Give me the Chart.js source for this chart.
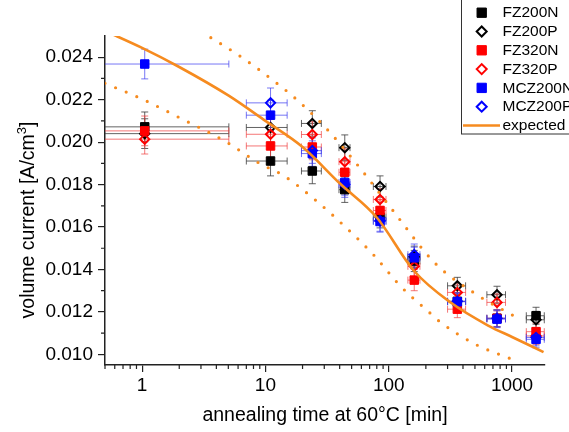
<!DOCTYPE html>
<html>
<head>
<meta charset="utf-8">
<script src="https://cdn.jsdelivr.net/npm/chart.js@4.4.1/dist/chart.umd.min.js"></script>
<style>
    html, body { margin: 0; padding: 0; background: #fff; overflow: hidden; }
    #chart { display: block; }
</style>
</head>
<body>
<canvas id="chart" width="569" height="432"></canvas>
<script>
// annealing steps (minutes) and their errors, shared by all samples
const times = [1.05, 11, 24, 44, 85, 161, 360, 755, 1565];
const timeErr = [4, 4, 4.4, 4.5, 10, 18, 60, 130, 260];
const currentErr = [0.0007, 0.0007, 0.0006, 0.0006, 0.0005, 0.0005, 0.0004, 0.0004, 0.0004];

// volume current [A/cm3] per sample
const fz200n = [0.02072, 0.01911, 0.01864, 0.01776, 0.01646, 0.01440, 0.01250, 0.01170, 0.01182];
const fz200p = [0.02040, 0.02069, 0.02088, 0.01974, 0.01791, 0.01460, 0.01323, 0.01281, 0.01163];
const fz320n = [0.02053, 0.01982, 0.01977, 0.01858, 0.01678, 0.01350, 0.01213, 0.01170, 0.01107];
const fz320p = [0.02014, 0.02037, 0.02036, 0.01908, 0.01730, 0.01415, 0.01292, 0.01245, 0.01087];
const mcz200n = [0.02368, 0.02127, 0.01946, 0.01810, 0.01626, 0.01455, 0.01248, 0.01166, 0.01071];
const mcz200p = [null, 0.02185, 0.01960, 0.01800, 0.01630, 0.01470, 0.01250, 0.01170, 0.01080];

// expected annealing curve and its band
const expectedTimes = [0.5, 1, 2, 5, 10, 20, 40, 80, 160, 320, 640, 1000, 1800];
const expectedValues = [0.02524, 0.02444, 0.02354, 0.02220, 0.02100, 0.01977, 0.01806, 0.01645, 0.01394, 0.01243, 0.01136, 0.01082, 0.01011];
const upperTimes = [3, 3.5, 6.6, 11.9, 17.5, 30.3, 58.5, 108, 238, 535, 1030];
const upperValues = [0.02520, 0.02497, 0.02395, 0.02285, 0.02206, 0.02072, 0.01878, 0.01678, 0.01429, 0.01276, 0.01182];
const lowerTimes = [0.5, 1, 1.95, 4.8, 9, 13.9, 25.2, 44.2, 75, 124, 214, 261, 503, 1000];
const lowerValues = [0.02277, 0.02203, 0.02119, 0.02001, 0.01899, 0.01844, 0.01729, 0.01602, 0.01470, 0.01323, 0.01197, 0.01153, 0.01048, 0.00977];

// axes
const xTicks = [1, 10, 100, 1000];
const xMinorTicks = [0.5, 0.6, 0.7, 0.8, 0.9, 2, 3, 4, 5, 6, 7, 8, 9, 20, 30, 40, 50, 60, 70, 80, 90,
    200, 300, 400, 500, 600, 700, 800, 900];
const yTicks = [0.010, 0.012, 0.014, 0.016, 0.018, 0.020, 0.022, 0.024];
const yMinorTicks = [0.011, 0.013, 0.015, 0.017, 0.019, 0.021, 0.023];

const ORANGE = '#F68B1F';
const FONT = 'Arial, "Liberation Sans", sans-serif';

const toPoints = (values) => times
    .map((t, i) => ({ x: t, y: values[i], xe: timeErr[i], ye: currentErr[i] }))
    .filter((p) => p.y !== null);

const toLine = (xs, ys) => xs.map((t, i) => ({ x: t, y: ys[i] }));

const sample = (label, values, color, errColor, filled, order) => ({
    label,
    data: toPoints(values),
    pointStyle: filled ? 'rect' : 'rectRot',
    pointRadius: filled ? 6 : 4.6,
    pointHoverRadius: filled ? 6 : 4.6,
    borderColor: color,
    backgroundColor: filled ? color : 'rgba(255,255,255,0)',
    pointBorderWidth: filled ? 1 : 2,
    borderWidth: filled ? 1 : 2,
    showLine: false,
    errorColor: errColor,
    order,
});

const errorBars = {
    id: 'errorBars',
    beforeDatasetsDraw(chart) {
        const { ctx, chartArea, scales: { x, y } } = chart;
        ctx.save();
        ctx.beginPath();
        ctx.rect(chartArea.left, chartArea.top, chartArea.right - chartArea.left, chartArea.bottom - chartArea.top);
        ctx.clip();
        ctx.lineWidth = 1;
        chart.data.datasets.forEach((ds) => {
            if (!ds.errorColor) return;
            ctx.strokeStyle = ds.errorColor;
            ds.data.forEach((p) => {
                const px = x.getPixelForValue(p.x);
                const py = y.getPixelForValue(p.y);
                const lowOk = p.x - p.xe > 0;
                const x0 = lowOk ? x.getPixelForValue(p.x - p.xe) : chartArea.left - 5;
                const x1 = x.getPixelForValue(p.x + p.xe);
                const y0 = y.getPixelForValue(p.y - p.ye);
                const y1 = y.getPixelForValue(p.y + p.ye);
                ctx.beginPath();
                ctx.moveTo(x0, py); ctx.lineTo(x1, py);
                if (lowOk) { ctx.moveTo(x0, py - 3.5); ctx.lineTo(x0, py + 3.5); }
                ctx.moveTo(x1, py - 3.5); ctx.lineTo(x1, py + 3.5);
                ctx.moveTo(px, y0); ctx.lineTo(px, y1);
                ctx.moveTo(px - 3.5, y0); ctx.lineTo(px + 3.5, y0);
                ctx.moveTo(px - 3.5, y1); ctx.lineTo(px + 3.5, y1);
                ctx.stroke();
            });
        });
        ctx.restore();
    },
};

const minorTicks = {
    id: 'minorTicks',
    afterDraw(chart) {
        const { ctx, scales: { x, y } } = chart;
        ctx.save();
        ctx.strokeStyle = '#222';
        ctx.lineWidth = 1.2;
        ctx.beginPath();
        xMinorTicks.forEach((v) => {
            const px = x.getPixelForValue(v);
            ctx.moveTo(px, y.bottom); ctx.lineTo(px, y.bottom + 4);
        });
        yMinorTicks.forEach((v) => {
            const py = y.getPixelForValue(v);
            ctx.moveTo(x.left, py); ctx.lineTo(x.left - 4, py);
        });
        ctx.stroke();
        ctx.restore();
    },
};

const yTitle = {
    id: 'yTitle',
    afterDraw(chart) {
        const { ctx } = chart;
        const main = 'volume current [A/cm';
        const big = `19.5px ${FONT}`;
        const small = `13px ${FONT}`;
        ctx.save();
        ctx.translate(33.5, 220);
        ctx.rotate(-Math.PI / 2);
        ctx.fillStyle = '#000';
        ctx.textBaseline = 'alphabetic';
        ctx.font = big;
        const w1 = ctx.measureText(main).width;
        const w3 = ctx.measureText(']').width;
        ctx.font = small;
        const w2 = ctx.measureText('3').width;
        const x0 = -(w1 + w2 + w3) / 2;
        ctx.font = big;
        ctx.fillText(main, x0, 0);
        ctx.font = small;
        ctx.fillText('3', x0 + w1, -8);
        ctx.font = big;
        ctx.fillText(']', x0 + w1 + w2, 0);
        ctx.restore();
    },
};

const boxLegend = {
    id: 'boxLegend',
    afterDraw(chart) {
        const { ctx } = chart;
        const items = chart.data.datasets.filter((ds) => ds.label);
        ctx.save();
        ctx.fillStyle = '#fff';
        ctx.fillRect(461, 0, 120, 134);
        ctx.strokeStyle = '#333';
        ctx.lineWidth = 1;
        ctx.strokeRect(461.5, -2, 140, 136);
        ctx.font = `15.5px ${FONT}`;
        ctx.textBaseline = 'middle';
        items.forEach((ds, i) => {
            const rowY = 12.7 + i * 18.8;
            if (ds.showLine === false) {
                ctx.fillStyle = ds.backgroundColor;
                ctx.strokeStyle = ds.borderColor;
                ctx.lineWidth = ds.borderWidth;
                Chart.helpers.drawPoint(ctx, {
                    pointStyle: ds.pointStyle,
                    radius: ds.pointStyle === 'rect' ? 6.6 : 5,
                    rotation: 0,
                    borderWidth: ds.borderWidth,
                }, 481.7, rowY);
            } else {
                ctx.strokeStyle = ds.borderColor;
                ctx.lineWidth = ds.borderWidth;
                ctx.beginPath();
                ctx.moveTo(463, rowY); ctx.lineTo(500, rowY);
                ctx.stroke();
            }
            ctx.fillStyle = '#000';
            ctx.fillText(ds.label, 502.5, rowY + 0.5);
        });
        ctx.restore();
    },
};

new Chart(document.getElementById('chart'), {
    type: 'scatter',
    data: {
        datasets: [
            sample('FZ200N', fz200n, '#000000', 'rgba(60,60,60,0.8)', true, 7),
            sample('FZ200P', fz200p, '#000000', 'rgba(60,60,60,0.8)', false, 6),
            sample('FZ320N', fz320n, '#ff0000', 'rgba(240,60,60,0.7)', true, 5),
            sample('FZ320P', fz320p, '#ff0000', 'rgba(240,60,60,0.7)', false, 4),
            sample('MCZ200N', mcz200n, '#0000ff', 'rgba(60,60,240,0.7)', true, 3),
            sample('MCZ200P', mcz200p, '#0000ff', 'rgba(60,60,240,0.7)', false, 2),
            {
                label: 'expected',
                data: toLine(expectedTimes, expectedValues),
                showLine: true,
                borderColor: ORANGE,
                backgroundColor: ORANGE,
                borderWidth: 2.6,
                pointRadius: 0,
                cubicInterpolationMode: 'monotone',
                order: 0,
            },
            {
                data: toLine(upperTimes, upperValues),
                showLine: true,
                borderColor: ORANGE,
                borderWidth: 3.2,
                borderDash: [0, 11.5],
                borderCapStyle: 'round',
                pointRadius: 0,
                cubicInterpolationMode: 'monotone',
                order: 1,
            },
            {
                data: toLine(lowerTimes, lowerValues),
                showLine: true,
                borderColor: ORANGE,
                borderWidth: 3.2,
                borderDash: [0, 11.5],
                borderCapStyle: 'round',
                pointRadius: 0,
                cubicInterpolationMode: 'monotone',
                order: 1,
            },
        ],
    },
    options: {
        responsive: false,
        animation: false,
        events: [],
        layout: { padding: { top: 36, right: 24, left: 0, bottom: 0 } },
        plugins: {
            legend: { display: false },
            tooltip: { enabled: false },
        },
        scales: {
            x: {
                type: 'logarithmic',
                min: 0.5,
                max: 1850,
                afterBuildTicks: (scale) => { scale.ticks = xTicks.map((v) => ({ value: v })); },
                afterFit: (scale) => { scale.height = 67; },
                ticks: {
                    autoSkip: false,
                    maxRotation: 0,
                    padding: 2,
                    color: '#000',
                    font: { family: FONT, size: 19 },
                    callback: (value) => String(value),
                },
                grid: { drawOnChartArea: false, drawTicks: true, tickLength: 7, color: '#222', lineWidth: 1.2 },
                border: { display: true, color: '#222', width: 1.5 },
                title: {
                    display: true,
                    text: 'annealing time at 60°C [min]',
                    color: '#000',
                    font: { family: FONT, size: 19.5 },
                    padding: { top: 0, bottom: 5 },
                },
            },
            y: {
                type: 'linear',
                min: 0.0095,
                max: 0.025,
                afterBuildTicks: (scale) => { scale.ticks = yTicks.map((v) => ({ value: v })); },
                afterFit: (scale) => { scale.width = 105; },
                ticks: {
                    padding: 5,
                    color: '#000',
                    font: { family: FONT, size: 19 },
                    callback: (value) => value.toFixed(3),
                },
                grid: { drawOnChartArea: false, drawTicks: true, tickLength: 7, color: '#222', lineWidth: 1.2 },
                border: { display: true, color: '#222', width: 1.5 },
            },
        },
    },
    plugins: [errorBars, minorTicks, yTitle, boxLegend],
});
</script>
</body>
</html>
